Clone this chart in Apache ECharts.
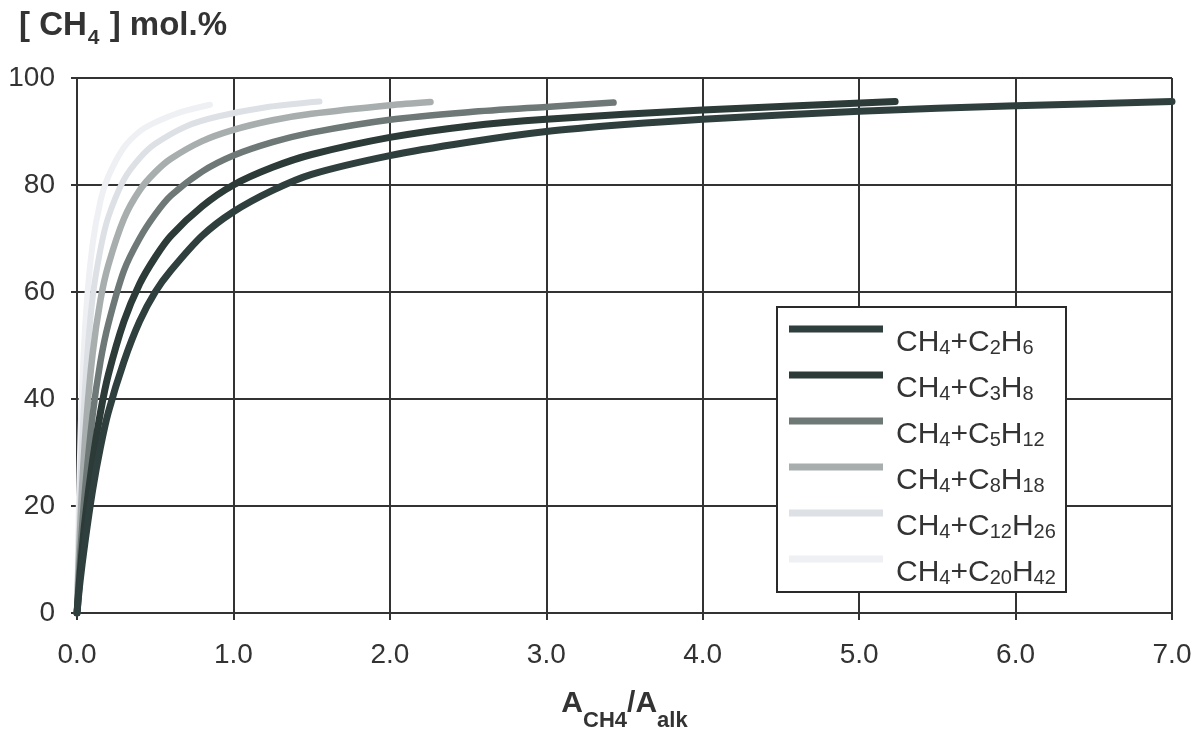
<!DOCTYPE html>
<html>
<head>
<meta charset="utf-8">
<script src="https://cdn.jsdelivr.net/npm/echarts@6/dist/echarts.min.js"></script>
<style>html,body{margin:0;padding:0;background:#fff;}#c{width:1203px;height:737px;}</style>
</head>
<body>
<div id="c"></div>
<script>
// Data
const xTicks = [0, 1, 2, 3, 4, 5, 6, 7];
const yTicks = [0, 20, 40, 60, 80, 100];

const names = ['CH4+C2H6', 'CH4+C3H8', 'CH4+C5H12', 'CH4+C8H18', 'CH4+C12H26', 'CH4+C20H42'];
const legendLabels = [
  'CH{s|4}+C{s|2}H{s|6}',
  'CH{s|4}+C{s|3}H{s|8}',
  'CH{s|4}+C{s|5}H{s|12}',
  'CH{s|4}+C{s|8}H{s|18}',
  'CH{s|4}+C{s|12}H{s|26}',
  'CH{s|4}+C{s|20}H{s|42}'
];

const xC2H6 = [0, 0.02, 0.05, 0.1, 0.15, 0.2, 0.3, 0.4, 0.5, 0.6, 0.8, 1.0, 1.25, 1.5, 2.0, 2.5, 3.0, 3.5, 4.0, 5.0, 6.0, 7.0];
const yC2H6 = [0, 6, 13, 23, 31, 37.5, 47, 54.5, 60, 64, 70.5, 75, 79, 82, 85.5, 88, 90, 91.3, 92.3, 93.8, 94.8, 95.6];

const xC3H8 = [0, 0.02, 0.05, 0.1, 0.15, 0.2, 0.3, 0.4, 0.5, 0.6, 0.8, 1.0, 1.25, 1.5, 2.0, 2.5, 3.0, 4.0, 5.23];
const yC3H8 = [0, 7.5, 17, 28.5, 37.5, 44.5, 54.5, 61.5, 66.5, 70.5, 76, 80, 83.3, 85.7, 88.9, 91, 92.3, 94, 95.6];

const xC5H12 = [0, 0.02, 0.05, 0.1, 0.15, 0.2, 0.3, 0.4, 0.5, 0.6, 0.8, 1.0, 1.25, 1.5, 2.0, 2.5, 3.0, 3.43];
const yC5H12 = [0, 10.5, 22.5, 37, 47, 54, 64, 70, 74.5, 78, 82.5, 85.5, 88, 89.8, 92.2, 93.6, 94.6, 95.4];

const xC8H18 = [0, 0.01, 0.03, 0.06, 0.1, 0.15, 0.2, 0.3, 0.4, 0.5, 0.6, 0.8, 1.0, 1.25, 1.5, 2.0, 2.26];
const yC8H18 = [0, 8.5, 22, 36, 48.5, 58.5, 65, 73.7, 79, 82.4, 84.9, 88.2, 90.3, 92.1, 93.3, 94.9, 95.5];

const xC12H26 = [0, 0.01, 0.03, 0.06, 0.1, 0.15, 0.2, 0.3, 0.4, 0.5, 0.7, 0.9, 1.2, 1.55];
const yC12H26 = [0, 12.5, 30, 46, 59, 68, 74, 81, 85, 87.7, 91, 92.8, 94.5, 95.6];

const xC20H42 = [0, 0.01, 0.03, 0.06, 0.1, 0.15, 0.2, 0.3, 0.4, 0.5, 0.65, 0.85];
const yC20H42 = [0, 18, 40, 57, 69, 77, 81.6, 87, 90, 91.7, 93.5, 95];

const colors = ['#2f3f3d', '#2c3a38', '#6e7877', '#a8aeae', '#dde0e4', '#eef0f3'];
const widths = [7, 7, 6.5, 6.5, 6, 6];

const seriesX = [xC2H6, xC3H8, xC5H12, xC8H18, xC12H26, xC20H42];
const seriesY = [yC2H6, yC3H8, yC5H12, yC8H18, yC12H26, yC20H42];

function pairs(xs, ys) { return xs.map((x, i) => [x, ys[i]]); }

const TXT = '#333';
const FONT = '"Liberation Sans", Arial, sans-serif';

const series = [];
for (let i = names.length - 1; i >= 0; i--) {
  series.push({
    name: names[i],
    type: 'line',
    data: pairs(seriesX[i], seriesY[i]),
    smooth: 0.3,
    symbol: 'none',
    showSymbol: false,
    itemStyle: { color: colors[i] },
    lineStyle: { color: colors[i], width: widths[i], cap: 'round', join: 'round' },
    z: 2,
    silent: true
  });
}

const chart = echarts.init(document.getElementById('c'), null, { renderer: 'canvas' });
chart.setOption({
  animation: false,
  backgroundColor: '#fff',
  textStyle: { fontFamily: FONT },
  title: {
    text: '[ CH{s|4} ] mol.%',
    left: 14,
    top: 3,
    textStyle: {
      fontFamily: FONT, fontSize: 33, fontWeight: 'bold', color: TXT, lineHeight: 36,
      rich: { s: { fontFamily: FONT, fontSize: 21, fontWeight: 'bold', color: TXT, lineHeight: 14, padding: [20, 1, 0, 1], verticalAlign: 'top' } }
    }
  },
  grid: { left: 77, right: 31, top: 78, bottom: 122, containLabel: false },
  xAxis: {
    type: 'value', min: 0, max: 7, interval: 1,
    name: '{b|A}{s|CH4}{b|/A}{s|alk}',
    nameLocation: 'middle', nameGap: 74,
    nameTextStyle: {
      rich: {
        b: { fontFamily: FONT, fontSize: 30, fontWeight: 'bold', color: TXT, lineHeight: 34 },
        s: { fontFamily: FONT, fontSize: 22, fontWeight: 'bold', color: TXT, lineHeight: 10, padding: [23, 0, 0, 0], verticalAlign: 'top' }
      }
    },
    axisLine: { show: true, lineStyle: { color: '#333', width: 2 } },
    axisTick: { show: true, inside: false, length: 7, lineStyle: { color: '#333', width: 2 } },
    splitLine: { show: true, lineStyle: { color: '#333', width: 2 } },
    axisLabel: { fontFamily: FONT, fontSize: 28, color: TXT, margin: 28, formatter: v => v.toFixed(1) }
  },
  yAxis: {
    type: 'value', min: 0, max: 100, interval: 20,
    axisLine: { show: true, lineStyle: { color: '#333', width: 2 } },
    axisTick: { show: true, inside: false, length: 6, lineStyle: { color: '#333', width: 2 } },
    splitLine: { show: true, lineStyle: { color: '#333', width: 2 } },
    axisLabel: { fontFamily: FONT, fontSize: 28, color: TXT, margin: 22 }
  },
  graphic: [{
    type: 'rect', z: 3,
    shape: { x: 777, y: 307, width: 289, height: 285 },
    style: { fill: '#fff', stroke: '#2a2a2a', lineWidth: 2 }
  }],
  legend: {
    orient: 'vertical',
    left: 789, top: 300,
    padding: 0,
    itemWidth: 94, itemHeight: 7, itemGap: -12,
    icon: 'rect',
    z: 5,
    data: names,
    formatter: name => legendLabels[names.indexOf(name)],
    textStyle: {
      fontFamily: FONT, fontSize: 30, color: TXT, lineHeight: 30, padding: [28, 0, 0, 8],
      rich: { s: { fontFamily: FONT, fontSize: 20, color: TXT, lineHeight: 14, padding: [10, 0, 0, 0], verticalAlign: 'top' } }
    },
    selectedMode: false
  },
  series: series
});
</script>
</body>
</html>
